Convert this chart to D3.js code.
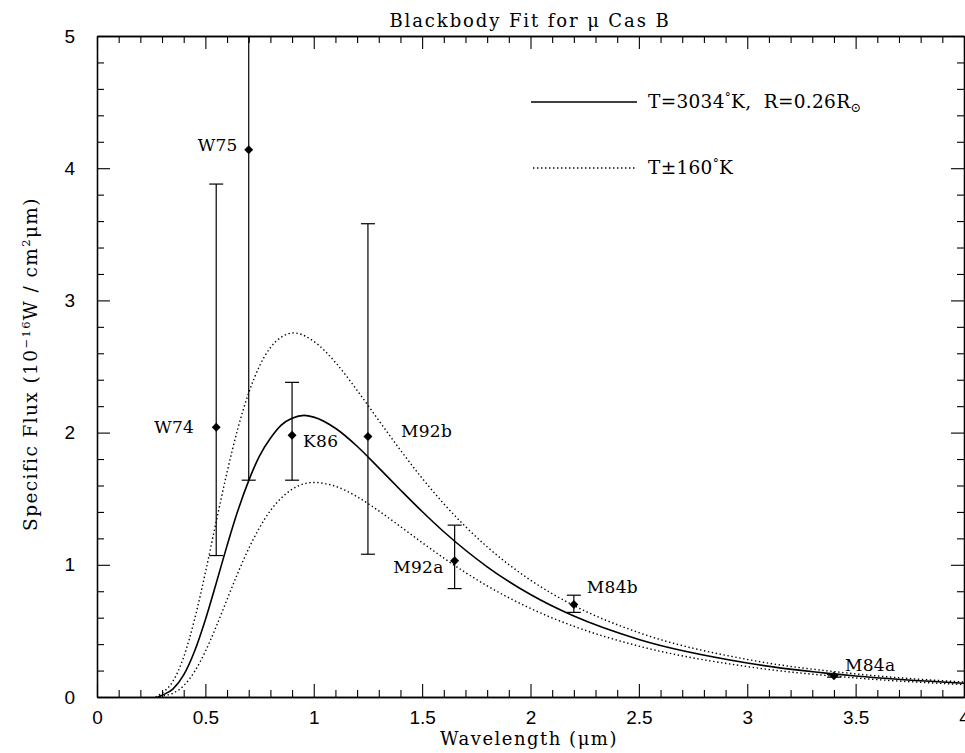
<!DOCTYPE html>
<html><head><meta charset="utf-8">
<script src="https://cdn.jsdelivr.net/npm/d3@7"></script>
<style>
body{margin:0;background:#fff;}
svg{display:block;}
.serif{font-family:"DejaVu Serif","Liberation Serif",serif;}
</style></head>
<body>
<svg id="c" width="965" height="753"></svg>
<script>
// ---- data ----
const fitX   = [0.28,0.30,0.35,0.40,0.45,0.50,0.55,0.60,0.65,0.70,0.75,0.80,0.85,0.90,0.955,1.0,1.1,1.2,1.3,1.4,1.5,1.6,1.8,2.0,2.2,2.5,3.0,3.5,4.0];
const fitY   = [0,0.014,0.060,0.167,0.346,0.585,0.861,1.145,1.410,1.637,1.824,1.957,2.057,2.108,2.130,2.117,2.033,1.897,1.733,1.566,1.403,1.250,0.985,0.775,0.612,0.435,0.257,0.159,0.104];
const hotX   = [0.27,0.30,0.35,0.40,0.45,0.50,0.55,0.60,0.65,0.70,0.75,0.80,0.85,0.907,1.0,1.1,1.2,1.3,1.4,1.5,1.6,1.8,2.0,2.2,2.5,3.0,3.5,4.0];
const hotY   = [0,0.030,0.118,0.302,0.586,0.941,1.327,1.700,2.032,2.301,2.504,2.643,2.722,2.754,2.691,2.531,2.320,2.092,1.867,1.655,1.462,1.136,0.884,0.692,0.487,0.284,0.175,0.113];
const coolX  = [0.29,0.30,0.35,0.40,0.45,0.50,0.55,0.60,0.65,0.70,0.75,0.80,0.85,0.90,1.0,1.1,1.2,1.3,1.4,1.5,1.6,1.8,2.0,2.2,2.5,3.0,3.5,4.0];
const coolY  = [0,0.006,0.028,0.086,0.192,0.345,0.533,0.737,0.939,1.123,1.281,1.410,1.505,1.571,1.623,1.594,1.515,1.408,1.289,1.168,1.051,0.841,0.670,0.535,0.385,0.230,0.144,0.094];

const ptNames = ["W74","W75","K86","M92b","M92a","M84b","M84a"];
const ptX     = [0.55,0.70,0.90,1.25,1.65,2.20,3.40];
const ptY     = [2.04,4.14,1.98,1.97,1.03,0.70,0.16];
const ptLow   = [1.07,1.64,1.64,1.08,0.82,0.64,0.15];
const ptHigh  = [3.88,5.60,2.38,3.58,1.30,0.77,0.17];

const xTicks = [0,0.5,1,1.5,2,2.5,3,3.5,4];
const xTickLabels = ["0","0.5","1","1.5","2","2.5","3","3.5","4"];
const yTicks = [0,1,2,3,4,5];
const yTickLabels = ["0","1","2","3","4","5"];

// ---- layout ----
const L = 97, R = 964, T = 36, B = 697;
const labelOff = { // dx, dy (label centre relative to point), anchor
  W74:[-22,0,"end"], W75:[-11,-5,"end"], K86:[11,6,"start"], M92b:[33,-6,"start"],
  M92a:[-11,6,"end"], M84b:[13,-18,"start"], M84a:[11,-11,"start"]
};

const svg = d3.select("#c");
const x = d3.scaleLinear().domain([0,4]).range([L,R]);
const y = d3.scaleLinear().domain([0,5]).range([B,T]);

svg.append("defs").append("clipPath").attr("id","plot")
  .append("rect").attr("x",L).attr("y",T).attr("width",R-L).attr("height",B-T);

const tickFont = '"Liberation Sans",Arial,sans-serif';
const minorX = d3.range(0,4.0001,0.1).filter(v=>Math.abs(v*2-Math.round(v*2))>1e-6);
const minorY = d3.range(0,5.0001,0.2).filter(v=>Math.abs(v-Math.round(v))>1e-6);

function styleAxis(g){
  g.select(".domain").attr("stroke","#000").attr("stroke-width",1.3);
  g.selectAll(".tick line").attr("stroke","#000").attr("stroke-width",1.1);
  g.selectAll("text").attr("font-family",tickFont).attr("font-size",19).attr("fill","#000");
}
// bottom
svg.append("g").attr("transform",`translate(0,${B})`)
  .call(d3.axisBottom(x).tickValues(xTicks).tickFormat((d,i)=>xTickLabels[i]).tickSizeInner(-13).tickSizeOuter(0).tickPadding(9))
  .call(styleAxis).call(g=>g.selectAll("text").attr("dy","0.95em"));
svg.append("g").attr("transform",`translate(0,${B})`)
  .call(d3.axisBottom(x).tickValues(minorX).tickFormat("").tickSizeInner(-7).tickSizeOuter(0))
  .call(styleAxis);
// top
svg.append("g").attr("transform",`translate(0,${T})`)
  .call(d3.axisTop(x).tickValues(xTicks).tickFormat("").tickSizeInner(-13).tickSizeOuter(0))
  .call(styleAxis);
svg.append("g").attr("transform",`translate(0,${T})`)
  .call(d3.axisTop(x).tickValues(minorX).tickFormat("").tickSizeInner(-7).tickSizeOuter(0))
  .call(styleAxis);
// left
svg.append("g").attr("transform",`translate(${L},0)`)
  .call(d3.axisLeft(y).tickValues(yTicks).tickFormat((d,i)=>yTickLabels[i]).tickSizeInner(-13).tickSizeOuter(0).tickPadding(22))
  .call(styleAxis);
svg.append("g").attr("transform",`translate(${L},0)`)
  .call(d3.axisLeft(y).tickValues(minorY).tickFormat("").tickSizeInner(-7).tickSizeOuter(0))
  .call(styleAxis);
// right
svg.append("g").attr("transform",`translate(${R},0)`)
  .call(d3.axisRight(y).tickValues(yTicks).tickFormat("").tickSizeInner(-13).tickSizeOuter(0))
  .call(styleAxis);
svg.append("g").attr("transform",`translate(${R},0)`)
  .call(d3.axisRight(y).tickValues(minorY).tickFormat("").tickSizeInner(-7).tickSizeOuter(0))
  .call(styleAxis);

// curves
const plot = svg.append("g").attr("clip-path","url(#plot)");
const line = d3.line().x(d=>x(d[0])).y(d=>y(d[1])).curve(d3.curveMonotoneX);
const zip = (a,b)=>a.map((v,i)=>[v,b[i]]);
plot.append("path").datum(zip(fitX,fitY)).attr("d",line)
  .attr("fill","none").attr("stroke","#000").attr("stroke-width",1.6);
[zip(hotX,hotY), zip(coolX,coolY)].forEach(dat=>{
  plot.append("path").datum(dat).attr("d",line)
    .attr("fill","none").attr("stroke","#000").attr("stroke-width",1.4)
    .attr("stroke-dasharray","1.4,2.6");
});

// error bars + points
const pts = ptNames.map((n,i)=>({n, x:ptX[i], y:ptY[i], lo:ptLow[i], hi:ptHigh[i]}));
const eg = plot.append("g").attr("stroke","#000").attr("stroke-width",1.2);
pts.forEach(p=>{
  eg.append("line").attr("x1",x(p.x)).attr("x2",x(p.x)).attr("y1",y(p.lo)).attr("y2",y(p.hi));
  [p.lo,p.hi].forEach(v=>{
    eg.append("line").attr("x1",x(p.x)-7).attr("x2",x(p.x)+7).attr("y1",y(v)).attr("y2",y(v));
  });
});
const sym = d3.symbol(d3.symbolSquare, 40);
plot.selectAll("path.pt").data(pts).join("path").attr("class","pt")
  .attr("d",sym).attr("fill","#000")
  .attr("transform",d=>`translate(${x(d.x)},${y(d.y)}) rotate(45)`);

// point labels
svg.selectAll("text.pl").data(pts).join("text").attr("class","pl serif")
  .attr("x",d=>x(d.x)+labelOff[d.n][0])
  .attr("y",d=>y(d.y)+labelOff[d.n][1])
  .attr("dy","0.36em")
  .attr("text-anchor",d=>labelOff[d.n][2])
  .attr("font-size",17).attr("letter-spacing",0.3).text(d=>d.n);

// title
svg.append("text").attr("class","serif").attr("x",530).attr("y",27)
  .attr("text-anchor","middle").attr("font-size",18).attr("letter-spacing",1.9)
  .text("Blackbody Fit for \u03bc Cas B");

// x-axis title
svg.append("text").attr("class","serif").attr("x",529).attr("y",745)
  .attr("text-anchor","middle").attr("font-size",18).attr("letter-spacing",1.5)
  .text("Wavelength (\u03bcm)");

// y-axis title
const yt = svg.append("text").attr("class","serif")
  .attr("transform","translate(37,364) rotate(-90)")
  .attr("text-anchor","middle").attr("font-size",18.5).attr("letter-spacing",1.4);
yt.append("tspan").text("Specific Flux (10");
yt.append("tspan").attr("dy",-7).attr("font-size",11.5).text("\u221216");
yt.append("tspan").attr("dy",7).text("W / cm");
yt.append("tspan").attr("dy",-7).attr("font-size",11.5).text("2");
yt.append("tspan").attr("dy",7).text("\u03bcm)");

// legend
const lg = svg.append("g");
lg.append("line").attr("x1",531).attr("x2",637).attr("y1",102).attr("y2",102)
  .attr("stroke","#000").attr("stroke-width",1.5);
lg.append("line").attr("x1",533).attr("x2",637).attr("y1",168).attr("y2",168)
  .attr("stroke","#000").attr("stroke-width",1.4).attr("stroke-dasharray","1.4,2.6");
const t1 = lg.append("text").attr("class","serif").attr("x",648).attr("y",108).attr("font-size",18.5).attr("letter-spacing",0.3);
t1.append("tspan").text("T=3034");
t1.append("tspan").attr("dy",-6).attr("font-size",12).text("\u00b0");
t1.append("tspan").attr("dy",6).text("K,\u00a0 R=0.26R");
t1.append("tspan").attr("dy",4).attr("font-size",13).text("\u2299");
const t2 = lg.append("text").attr("class","serif").attr("x",648).attr("y",174).attr("font-size",18.5).attr("letter-spacing",0.3);
t2.append("tspan").text("T\u00b1160");
t2.append("tspan").attr("dy",-6).attr("font-size",12).text("\u00b0");
t2.append("tspan").attr("dy",6).text("K");
</script>
</body></html>
